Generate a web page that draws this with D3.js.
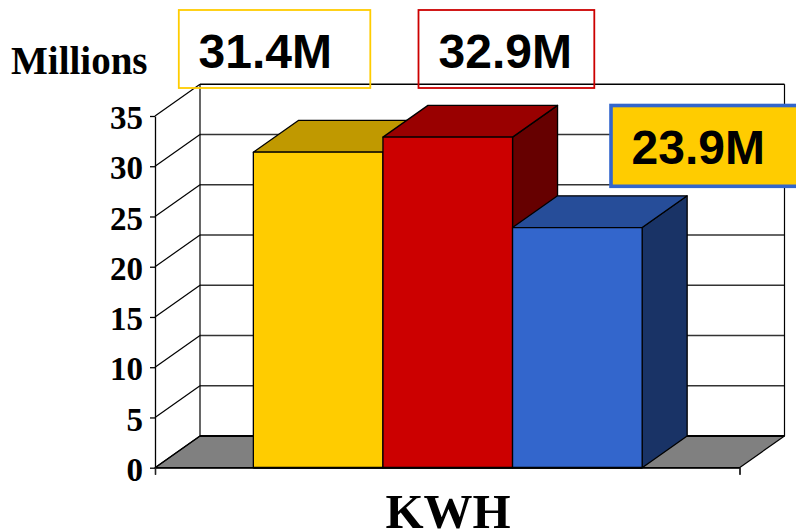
<!DOCTYPE html>
<html>
<head>
<meta charset="utf-8">
<script src="https://cdn.jsdelivr.net/npm/d3@7"></script>
<style>
    html, body { margin: 0; padding: 0; background: #fff; overflow: hidden; }
    svg { display: block; }
    .serif { font-family: "Liberation Serif", serif; font-weight: bold; fill: #000; }
    .sans { font-family: "Liberation Sans", sans-serif; font-weight: bold; fill: #000; }
</style>
</head>
<body>
<div class="chart"></div>
<script>
const series = ["A", "B", "C"];
const values = [31.4, 32.9, 23.9];
const frontColors = ["#FFCC00", "#CC0000", "#3366CC"];
const topColors = ["#C09900", "#990000", "#264D99"];
const sideColors = ["#806600", "#660000", "#193366"];
const yTicks = [0, 5, 10, 15, 20, 25, 30, 35];
const yLabel = "Millions";
const xLabel = "KWH";

const width = 796;
const height = 532;
const depthX = 45;
const depthY = -31.7;
const left = 155;
const right = 739.5;

const y = d3.scaleLinear().domain([0, 35]).range([467.7, 116]);
const x = d3.scaleBand().domain(series).range([155.5, 740])
    .paddingInner(0).paddingOuter(0.755);

const svg = d3.select(".chart").append("svg")
    .attr("width", width)
    .attr("height", height);

function poly(g, pts, fill, sw) {
    return g.append("polygon")
        .attr("points", pts.map(p => p.join(",")).join(" "))
        .attr("fill", fill)
        .attr("stroke", "#000")
        .attr("stroke-width", sw)
        .attr("stroke-linejoin", "round");
}

// floor
const walls = svg.append("g");
poly(walls, [[left, y(0)], [left + depthX, y(0) + depthY], [right + depthX, y(0) + depthY], [right, y(0)]], "#808080", 1.2);

// walls and gridlines
walls.selectAll("line.grid")
    .data(yTicks.slice(1))
    .enter()
    .append("line")
    .attr("class", "grid")
    .attr("x1", left + depthX)
    .attr("x2", right + depthX)
    .attr("y1", d => y(d) + depthY)
    .attr("y2", d => y(d) + depthY)
    .attr("stroke", d => d === 35 ? "#000" : "#333")
    .attr("stroke-width", 1.4);

walls.selectAll("line.diag")
    .data(yTicks)
    .enter()
    .append("line")
    .attr("class", "diag")
    .attr("x1", left)
    .attr("x2", left + depthX)
    .attr("y1", d => y(d))
    .attr("y2", d => y(d) + depthY)
    .attr("stroke", "#000")
    .attr("stroke-width", 1.2);

const edges = [
    [left + depthX, y(0) + depthY, left + depthX, y(35) + depthY],
    [right + depthX, y(0) + depthY, right + depthX, y(35) + depthY]
];
walls.selectAll("line.edge")
    .data(edges)
    .enter()
    .append("line")
    .attr("class", "edge")
    .attr("x1", d => d[0])
    .attr("y1", d => d[1])
    .attr("x2", d => d[2])
    .attr("y2", d => d[3])
    .attr("stroke", "#000")
    .attr("stroke-width", 1.2);

walls.append("line")
    .attr("x1", left + depthX)
    .attr("x2", right + depthX)
    .attr("y1", y(0) + depthY)
    .attr("y2", y(0) + depthY)
    .attr("stroke", "#000")
    .attr("stroke-width", 2);

// y axis
const yAxis = svg.append("g")
    .attr("transform", "translate(" + left + ",0)")
    .call(d3.axisLeft(y).tickValues(yTicks).tickSize(5).tickPadding(7).tickSizeOuter(0));
yAxis.selectAll("path, line").attr("stroke", "#000").attr("stroke-width", 1.3);
yAxis.selectAll("text")
    .attr("class", "serif")
    .style("font-size", "33px")
    .attr("dy", ".38em")
    .attr("fill", "#000");

// x axis, one category so only the end ticks
const xAxis = svg.append("g")
    .attr("transform", "translate(0," + y(0) + ")")
    .call(d3.axisBottom(d3.scaleLinear().domain([0, 1]).range([left, right]))
        .tickValues([0, 1]).tickSize(7).tickFormat(""));
xAxis.select("path").attr("stroke", "#000").attr("stroke-width", 1.3);
xAxis.selectAll("line").attr("stroke", "#222").attr("stroke-width", 1.3);

// bars, left to right so the later one covers the side of the earlier
const bars = svg.selectAll("g.bar")
    .data(series)
    .enter()
    .append("g")
    .attr("class", "bar");

bars.each(function(d, i) {
    const g = d3.select(this);
    const x0 = x(d);
    const x1 = x0 + x.bandwidth();
    const top = y(values[i]);
    const base = y(0);
    poly(g, [[x1, top], [x1 + depthX, top + depthY], [x1 + depthX, base + depthY], [x1, base]], sideColors[i], 1.3);
    poly(g, [[x0, top], [x0 + depthX, top + depthY], [x1 + depthX, top + depthY], [x1, top]], topColors[i], 1.3);
    poly(g, [[x0, top], [x1, top], [x1, base], [x0, base]], frontColors[i], 1.3);
});

svg.append("line")
    .attr("x1", x(series[0]))
    .attr("x2", x(series[2]) + x.bandwidth())
    .attr("y1", y(0))
    .attr("y2", y(0))
    .attr("stroke", "#000")
    .attr("stroke-width", 2);

// value callouts
const boxX = [178.8, 418.5, 611];
const boxW = [191.5, 175.8, 200];
const boxY = [10, 10, 105.5];
const boxH = [78, 78, 80.8];
const boxFill = ["none", "none", "#FFCC00"];
const boxStroke = ["#FFCC00", "#CC0000", "#3366CC"];
const boxStrokeW = [1.8, 1.8, 3.6];
const textX = [198.5, 438.5, 631.5];
const textY = [67.5, 67.5, 164];

const labels = svg.selectAll("g.callout")
    .data(values)
    .enter()
    .append("g")
    .attr("class", "callout");

labels.append("rect")
    .attr("x", (d, i) => boxX[i])
    .attr("y", (d, i) => boxY[i])
    .attr("width", (d, i) => boxW[i])
    .attr("height", (d, i) => boxH[i])
    .attr("fill", (d, i) => boxFill[i])
    .attr("stroke", (d, i) => boxStroke[i])
    .attr("stroke-width", (d, i) => boxStrokeW[i]);

labels.append("text")
    .attr("class", "sans")
    .attr("x", (d, i) => textX[i])
    .attr("y", (d, i) => textY[i])
    .style("font-size", "48px")
    .text(d => d + "M");

svg.append("text")
    .attr("class", "serif")
    .attr("x", 11)
    .attr("y", 74)
    .style("font-size", "39px")
    .text(yLabel);

svg.append("text")
    .attr("class", "serif")
    .attr("x", 448)
    .attr("y", 528)
    .attr("text-anchor", "middle")
    .style("font-size", "49px")
    .text(xLabel);
</script>
</body>
</html>
